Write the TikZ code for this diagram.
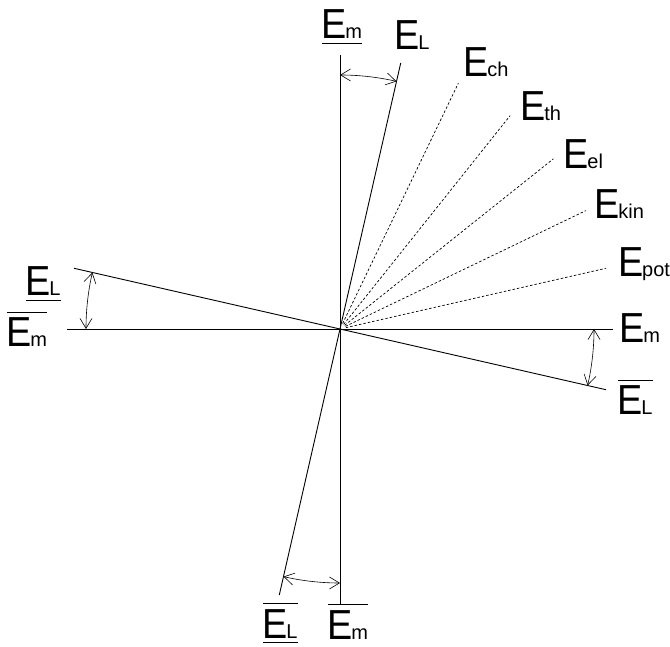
\documentclass[tikz,border=0pt]{standalone}
\usepackage{fontspec}
\usetikzlibrary{calc,arrows.meta}
\newfontfamily\labfont[FakeStretch=0.9]{Liberation Sans}
\newfontfamily\subfont{Liberation Sans}
\newcommand\Elab[1]{{\fontsize{42}{42}\selectfont E}\kern-1pt{\subfont\fontsize{20}{20}\selectfont #1}}
\tikzset{
  lab/.style={anchor=base west, inner sep=0pt, outer sep=0pt, font=\labfont},
  axis/.style={line width=0.9pt},
  dashline/.style={line width=0.7pt, dash pattern=on 2.5pt off 2pt},
  arr/.style={line width=0.6pt, {Straight Barb[length=10pt,width=12pt]}-{Straight Barb[length=10pt,width=12pt]}},
  bar/.style={line width=0.9pt}
}
\begin{document}
\begin{tikzpicture}[x=1pt,y=1pt]
\useasboundingbox (0,0) rectangle (670,646);
\coordinate (O) at (340,317);
% main lines
\coordinate (vT) at ($(O)+(90:274)$);
\coordinate (vB) at ($(O)+(270:275)$);
\coordinate (hL) at ($(O)+(180:273)$);
\coordinate (hR) at ($(O)+(0:273)$);
\coordinate (lT) at ($(O)+(77.14:273)$);
\coordinate (lB) at ($(O)+(257.14:273)$);
\coordinate (tL) at ($(O)+(167.14:273)$);
\coordinate (tR) at ($(O)+(-12.86:273)$);
\draw[axis] (vT) -- (vB);
\draw[axis] (hL) -- (hR);
\draw[axis] (lT) -- (lB);
\draw[axis] (tL) -- (tR);
% dashed lines
\foreach \a/\n in {64.29/ch,51.43/th,38.57/el,25.71/kin,12.86/pot}{
  \coordinate (s\n) at ($(O)+(\a:6)$);
  \coordinate (e\n) at ($(O)+(\a:273)$);
  \draw[dashline] (s\n) -- (e\n);
}
% angle arrows
\draw[arr] ($(O)+(90:254)$) arc[start angle=90, end angle=77.14, radius=254];
\draw[arr] ($(O)+(167.14:254)$) arc[start angle=167.14, end angle=180, radius=254];
\draw[arr] ($(O)+(0:254)$) arc[start angle=0, end angle=-12.86, radius=254];
\draw[arr] ($(O)+(257.14:254)$) arc[start angle=257.14, end angle=270, radius=254];
% labels
\node[lab] (topEm) at (321.2,607) {\Elab{m}};
\node[lab] (topEL) at (394.2,596) {\Elab{L}};
\node[lab] (Ech) at (463.2,569) {\Elab{ch}};
\node[lab] (Eth) at (520.2,525) {\Elab{th}};
\node[lab] (Eel) at (563.2,477) {\Elab{el}};
\node[lab] (Ekin) at (594.2,427) {\Elab{kin}};
\node[lab] (Epot) at (618,369) {\Elab{pot}};
\node[lab] (rightEm) at (619.2,303) {\Elab{m}};
\node[lab] (rightEL) at (617.2,231) {\Elab{L}};
\node[lab] (leftEL) at (25.2,350) {\Elab{L}};
\node[lab] (leftEm) at (6.2,299) {\Elab{m}};
\node[lab] (botEL) at (262.2,8) {\Elab{L}};
\node[lab] (botEm) at (327.2,7) {\Elab{m}};
% under- and overlines
\draw[bar] ($(topEm.base west)+(1,-4)$) -- ($(topEm.base east)+(0,-4)$);
\draw[bar] ($(leftEL.base west)+(1,-4)$) -- ($(leftEL.base east)+(0,-4)$);
\draw[bar] ($(botEL.base west)+(1,-4)$) -- ($(botEL.base east)+(0,-4)$);
\draw[bar] ($(leftEm.base west)+(1,35)$) -- ($(leftEm.base east)+(0,35)$);
\draw[bar] ($(rightEL.base west)+(1,35)$) -- ($(rightEL.base east)+(0,35)$);
\draw[bar] ($(botEL.base west)+(1,35)$) -- ($(botEL.base east)+(0,35)$);
\draw[bar] ($(botEm.base west)+(1,35)$) -- ($(botEm.base east)+(0,35)$);
\end{tikzpicture}
\end{document}
